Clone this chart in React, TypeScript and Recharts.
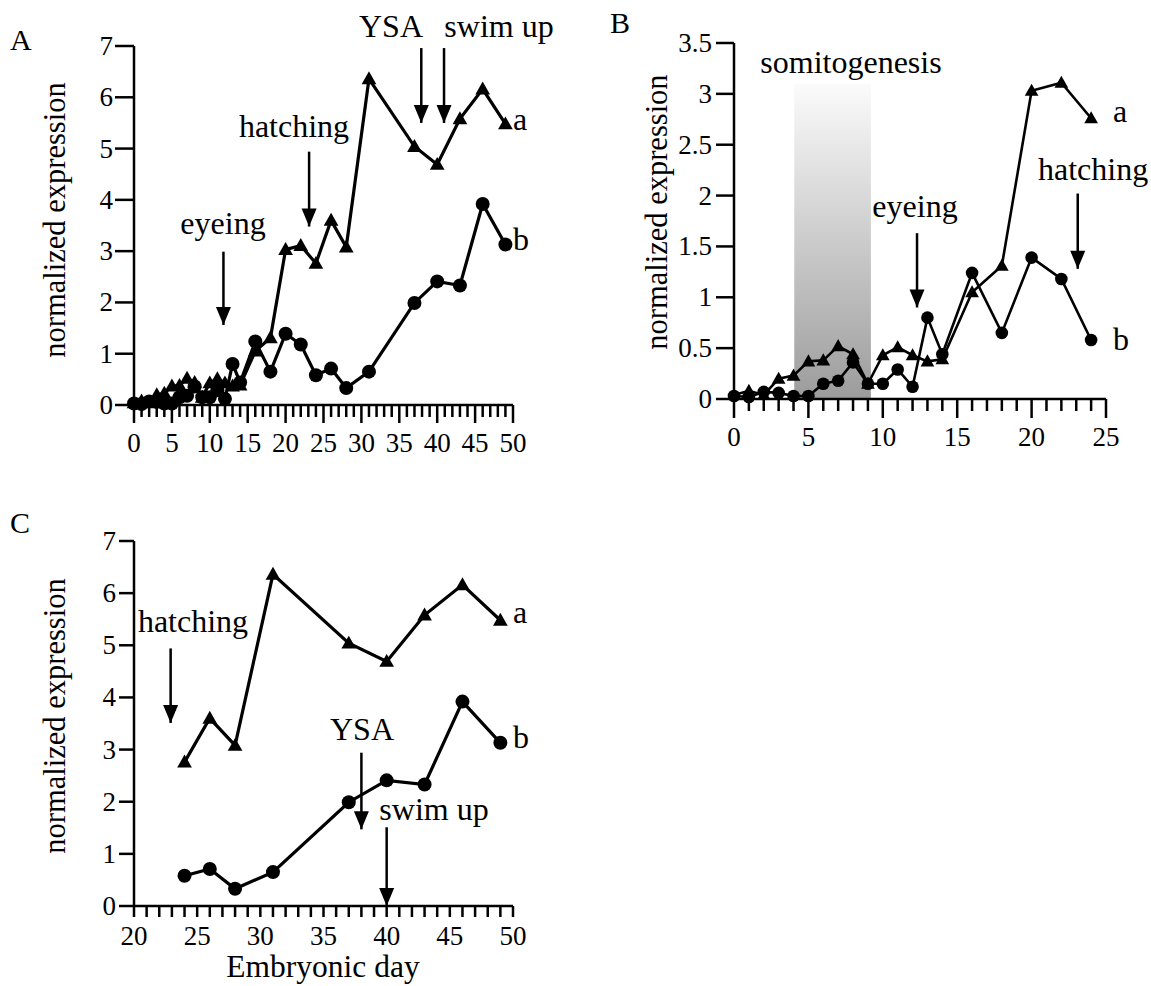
import { LineChart, Line, XAxis, YAxis, ReferenceArea, ReferenceLine, ReferenceDot } from 'recharts';

// embryonic days sampled
const days = [0, 1, 2, 3, 4, 5, 6, 7, 8, 9, 10, 11, 12, 13, 14, 16, 18, 20, 22, 24, 26, 28, 31, 37, 40, 43, 46, 49];
// transcript a (triangles)
const seriesA = [0.04, 0.08, 0.04, 0.2, 0.23, 0.37, 0.38, 0.52, 0.44, 0.15, 0.43, 0.51, 0.43, 0.37, 0.39, 1.05, 1.31, 3.03, 3.11, 2.76, 3.6, 3.08, 6.36, 5.04, 4.69, 5.58, 6.16, 5.48];
// transcript b (circles)
const seriesB = [0.03, 0.02, 0.07, 0.06, 0.03, 0.03, 0.15, 0.18, 0.36, 0.15, 0.15, 0.29, 0.12, 0.8, 0.44, 1.24, 0.65, 1.39, 1.18, 0.58, 0.71, 0.33, 0.65, 1.99, 2.41, 2.33, 3.92, 3.13];

const labelTicksA = [0, 5, 10, 15, 20, 25, 30, 35, 40, 45, 50];
const labelTicksB = [0, 5, 10, 15, 20, 25];
const labelTicksC = [20, 25, 30, 35, 40, 45, 50];
const yTicks7 = [0, 1, 2, 3, 4, 5, 6, 7];
const yTicksB = [0, 0.5, 1, 1.5, 2, 2.5, 3, 3.5];

// developmental events: x = day, top/tip = expression level of the arrow
const arrowsA = [
  { x: 11.8, top: 2.99, tip: 1.56 },
  { x: 23.1, top: 4.94, tip: 3.48 },
  { x: 37.9, top: 6.96, tip: 5.5 },
  { x: 40.9, top: 6.96, tip: 5.5 },
];
const arrowsB = [
  { x: 12.3, top: 1.63, tip: 0.9 },
  { x: 23.1, top: 2.02, tip: 1.28 },
];
const arrowsC = [
  { x: 22.9, top: 4.94, tip: 3.51 },
  { x: 38.0, top: 2.94, tip: 1.47 },
  { x: 40.0, top: 1.51, tip: 0.0 },
];
const somitogenesis = { from: 4.05, to: 9.2, top: 3.1 };

const data = days.map((d, i) => ({ day: d, a: seriesA[i], b: seriesB[i] }));
const dataB = data.filter(d => d.day <= 24);
const dataC = data.filter(d => d.day >= 24);

const FONT = 'Liberation Serif, Tinos, DejaVu Serif, serif';
const fontStyle = { fontFamily: FONT };
const TICK_FS = 27;

const intRange = (lo: number, hi: number) => Array.from({ length: hi - lo + 1 }, (_, i) => lo + i);

const circleDot = (r: number) => (props: any) => {
  const { cx, cy, index } = props;
  if (cx == null || cy == null) return <g key={index} />;
  return <circle key={index} cx={cx} cy={cy} r={r} fill="#000" />;
};

const triDot = (s: number) => (props: any) => {
  const { cx, cy, index } = props;
  if (cx == null || cy == null) return <g key={index} />;
  return (
    <path
      key={index}
      d={`M${cx},${cy - s} L${cx + s * 0.98},${cy + s * 0.72} L${cx - s * 0.98},${cy + s * 0.72} Z`}
      fill="#000"
    />
  );
};

const makeXTick = (labels: number[], majorLen: number, minorLen: number, labelDy: number) => (props: any) => {
  const { x, y, payload } = props;
  const v = payload.value;
  const major = labels.includes(v);
  return (
    <g>
      <line x1={x} x2={x} y1={y} y2={y + (major ? majorLen : minorLen)} stroke="#000" strokeWidth={2.5} />
      {major && (
        <text x={x} y={y + labelDy} textAnchor="middle" fontSize={TICK_FS} style={fontStyle} fill="#000">
          {v}
        </text>
      )}
    </g>
  );
};

const makeYTick = (len: number, gap: number) => (props: any) => {
  const { x, y, payload } = props;
  return (
    <g>
      <line x1={x - len} x2={x} y1={y} y2={y} stroke="#000" strokeWidth={2.5} />
      <text x={x - len - gap} y={y + 9} textAnchor="end" fontSize={TICK_FS} style={fontStyle} fill="#000">
        {payload.value}
      </text>
    </g>
  );
};

const arrowHead = (w: number, h: number) => (props: any) => {
  const { cx, cy } = props;
  if (cx == null || cy == null) return <g />;
  return <path d={`M${cx},${cy} L${cx - w / 2},${cy - h} L${cx + w / 2},${cy - h} Z`} fill="#000" />;
};

const renderArrows = (list: { x: number; top: number; tip: number }[], prefix: string) =>
  list.flatMap((a, i) => [
    <ReferenceLine
      key={`${prefix}-l${i}`}
      segment={[{ x: a.x, y: a.top }, { x: a.x, y: a.tip }]}
      stroke="#000"
      strokeWidth={2.5}
      ifOverflow="visible"
    />,
    <ReferenceDot key={`${prefix}-h${i}`} x={a.x} y={a.tip} r={1} ifOverflow="visible" shape={arrowHead(15, 18)} />,
  ]);

const axisLine = { stroke: '#000', strokeWidth: 2.5 };

export default function App() {
  return (
    <div style={{ position: 'absolute', left: 0, top: 0, width: 1151, height: 986, background: '#fff', fontFamily: FONT }}>
      {/* Panel A */}
      <div style={{ position: 'absolute', left: 0, top: 0 }}>
        <LineChart width={560} height={470} data={data} margin={{ top: 46, right: 47, left: 74, bottom: 35 }}>
          <XAxis
            dataKey="day"
            type="number"
            domain={[0, 50]}
            ticks={intRange(0, 50)}
            interval={0}
            tickSize={0}
            tickMargin={0}
            tickLine={false}
            axisLine={axisLine}
            height={30}
            tick={makeXTick(labelTicksA, 18, 12, 47)}
          />
          <YAxis
            type="number"
            domain={[0, 7]}
            ticks={yTicks7}
            interval={0}
            tickSize={0}
            tickMargin={0}
            tickLine={false}
            axisLine={axisLine}
            width={60}
            tick={makeYTick(19, 2)}
          />
          <Line dataKey="a" type="linear" stroke="#000" strokeWidth={3.2} dot={triDot(7.5)} activeDot={false} isAnimationActive={false} />
          <Line dataKey="b" type="linear" stroke="#000" strokeWidth={3.2} dot={circleDot(7)} activeDot={false} isAnimationActive={false} />
          {renderArrows(arrowsA, 'A')}
        </LineChart>
      </div>

      {/* Panel B */}
      <div style={{ position: 'absolute', left: 600, top: 0 }}>
        <LineChart width={551} height={470} data={dataB} margin={{ top: 43, right: 45, left: 74, bottom: 41 }}>
          <defs>
            <linearGradient id="somiGrad" x1="0" y1="0" x2="0" y2="1">
              <stop offset="0%" stopColor="#fbfbfb" />
              <stop offset="100%" stopColor="#9c9c9c" />
            </linearGradient>
          </defs>
          <ReferenceArea
            x1={somitogenesis.from}
            x2={somitogenesis.to}
            y1={0}
            y2={somitogenesis.top}
            fill="url(#somiGrad)"
            fillOpacity={1}
            stroke="none"
          />
          <XAxis
            dataKey="day"
            type="number"
            domain={[0, 25]}
            ticks={intRange(0, 25)}
            interval={0}
            tickSize={0}
            tickMargin={0}
            tickLine={false}
            axisLine={axisLine}
            height={30}
            tick={makeXTick(labelTicksB, 19, 12, 47)}
          />
          <YAxis
            type="number"
            domain={[0, 3.5]}
            ticks={yTicksB}
            interval={0}
            tickSize={0}
            tickMargin={0}
            tickLine={false}
            axisLine={axisLine}
            width={60}
            tick={makeYTick(18, 4)}
          />
          <Line dataKey="a" type="linear" stroke="#000" strokeWidth={2.6} dot={triDot(7)} activeDot={false} isAnimationActive={false} />
          <Line dataKey="b" type="linear" stroke="#000" strokeWidth={2.6} dot={circleDot(6.3)} activeDot={false} isAnimationActive={false} />
          {renderArrows(arrowsB, 'B')}
        </LineChart>
      </div>

      {/* Panel C */}
      <div style={{ position: 'absolute', left: 0, top: 500 }}>
        <LineChart width={560} height={486} data={dataC} margin={{ top: 41, right: 47, left: 74, bottom: 50 }}>
          <XAxis
            dataKey="day"
            type="number"
            domain={[20, 50]}
            ticks={intRange(20, 50)}
            interval={0}
            tickSize={0}
            tickMargin={0}
            tickLine={false}
            axisLine={axisLine}
            height={30}
            tick={makeXTick(labelTicksC, 11, 11, 39)}
          />
          <YAxis
            type="number"
            domain={[0, 7]}
            ticks={yTicks7}
            interval={0}
            tickSize={0}
            tickMargin={0}
            tickLine={false}
            axisLine={axisLine}
            width={60}
            tick={makeYTick(15, 3)}
          />
          <Line dataKey="a" type="linear" stroke="#000" strokeWidth={3.2} dot={triDot(7.5)} activeDot={false} isAnimationActive={false} />
          <Line dataKey="b" type="linear" stroke="#000" strokeWidth={3.2} dot={circleDot(7)} activeDot={false} isAnimationActive={false} />
          {renderArrows(arrowsC, 'C')}
        </LineChart>
      </div>

      {/* text overlay */}
      <svg
        width={1151}
        height={986}
        style={{ position: 'absolute', left: 0, top: 0, pointerEvents: 'none', fontFamily: FONT }}
        fontSize={32}
        fill="#000"
      >
        <text x={10} y={50} fontSize={30}>A</text>
        <text x={610} y={33} fontSize={30}>B</text>
        <text x={10} y={533} fontSize={30}>C</text>

        <text x={65} y={220} textAnchor="middle" fontSize={30.5} transform="rotate(-90 65 220)">normalized expression</text>
        <text x={667} y={212} textAnchor="middle" fontSize={30.5} transform="rotate(-90 667 212)">normalized expression</text>
        <text x={65} y={716} textAnchor="middle" fontSize={30.5} transform="rotate(-90 65 716)">normalized expression</text>
        <text x={323} y={977} textAnchor="middle" fontSize={31.5}>Embryonic day</text>

        <text x={223} y={234} textAnchor="middle">eyeing</text>
        <text x={294} y={137} textAnchor="middle">hatching</text>
        <text x={391} y={37} textAnchor="middle">YSA</text>
        <text x={499} y={37} textAnchor="middle">swim up</text>
        <text x={513} y={130}>a</text>
        <text x={513} y={250}>b</text>

        <text x={851} y={73} textAnchor="middle">somitogenesis</text>
        <text x={915} y={217} textAnchor="middle">eyeing</text>
        <text x={1038} y={180}>hatching</text>
        <text x={1113} y={122}>a</text>
        <text x={1113} y={350}>b</text>

        <text x={193} y={632} textAnchor="middle">hatching</text>
        <text x={362} y={740} textAnchor="middle">YSA</text>
        <text x={434} y={820} textAnchor="middle">swim up</text>
        <text x={513} y={623}>a</text>
        <text x={513} y={748}>b</text>
      </svg>
    </div>
  );
}
